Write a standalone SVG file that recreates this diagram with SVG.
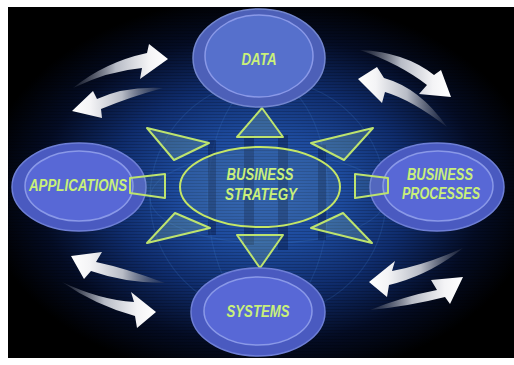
<svg xmlns="http://www.w3.org/2000/svg" width="514" height="365" viewBox="0 0 514 365">
<defs>
<radialGradient id="bg" cx="0.5" cy="0.52" r="0.55">
<stop offset="0" stop-color="#2a5cb4"/>
<stop offset="0.3" stop-color="#1d4a9c"/>
<stop offset="0.55" stop-color="#0f2c6c"/>
<stop offset="0.8" stop-color="#040c24"/>
<stop offset="1" stop-color="#000000"/>
</radialGradient>
<linearGradient id="gR" x1="0" y1="0" x2="1" y2="0">
<stop offset="0" stop-color="#6b7080" stop-opacity="0.15"/>
<stop offset="0.45" stop-color="#b8bcc6"/>
<stop offset="0.8" stop-color="#f4f4f6"/>
<stop offset="1" stop-color="#ffffff"/>
</linearGradient>
<linearGradient id="gL" x1="1" y1="0" x2="0" y2="0">
<stop offset="0" stop-color="#6b7080" stop-opacity="0.15"/>
<stop offset="0.45" stop-color="#b8bcc6"/>
<stop offset="0.8" stop-color="#f4f4f6"/>
<stop offset="1" stop-color="#ffffff"/>
</linearGradient>
<pattern id="scan" width="4" height="3" patternUnits="userSpaceOnUse">
<rect width="4" height="1" fill="#000" opacity="0.18"/>
</pattern>
<style>
.outer{fill:#4a5ac0;stroke:#6e7fd6;stroke-width:1.5}
.inner{fill:#5868d6;stroke:#8a99e8;stroke-width:1.5}
.lbl{font-family:"Liberation Sans",Arial,sans-serif;font-weight:bold;font-style:italic;font-size:16px;fill:#c9f07a;text-anchor:middle}
.ray{fill:#7fb4b4;fill-opacity:0.3;stroke:#bde36e;stroke-width:2;stroke-linejoin:round}
.col{fill:#08173e;opacity:0.4}
.arr{stroke:none}
</style>
</defs>
<rect x="0" y="0" width="514" height="365" fill="#ffffff"/>
<rect x="8" y="7" width="506" height="351" fill="url(#bg)"/>
<rect x="8" y="7" width="506" height="351" fill="url(#scan)"/>
<g id="globe" fill="none" stroke="#4a86d0" stroke-opacity="0.18" stroke-width="1.2">
<circle cx="268" cy="198" r="118"/>
<ellipse cx="268" cy="198" rx="60" ry="118"/>
<ellipse cx="268" cy="198" rx="118" ry="45"/>
</g>
<g id="columns">
<rect class="col" x="208" y="140" width="8" height="95"/>
<rect class="col" x="244" y="135" width="10" height="110"/>
<rect class="col" x="278" y="135" width="10" height="115"/>
<rect class="col" x="318" y="145" width="8" height="95"/>
</g>
<g id="rays">
<polygon class="ray" points="262,108 237,137 283,137"/>
<polygon class="ray" points="237,235 283,235 260,268"/>
<polygon class="ray" points="147,128 209,143 174,160"/>
<polygon class="ray" points="373,128 311,143 344,160"/>
<polygon class="ray" points="147,243 210,228 175,213"/>
<polygon class="ray" points="372,243 311,228 343,213"/>
</g>
<g id="node-data">
<ellipse class="outer" cx="259" cy="58" rx="66" ry="49" style="fill:#4d60b8;stroke:#7386cf"/>
<ellipse class="inner" cx="259" cy="56" rx="54" ry="41" style="fill:#5670cc"/>
<text class="lbl" x="259" y="65" textLength="35" lengthAdjust="spacingAndGlyphs">DATA</text>
</g>
<g id="node-applications">
<ellipse class="outer" cx="79" cy="187" rx="67" ry="44"/>
<ellipse class="inner" cx="79" cy="186" rx="54" ry="35"/>
<polygon class="ray" points="130,178 165,174 165,198 130,193" style="fill-opacity:0.15"/>
<text class="lbl" x="78" y="191" textLength="98" lengthAdjust="spacingAndGlyphs">APPLICATIONS</text>
</g>
<g id="node-processes">
<ellipse class="outer" cx="437" cy="187" rx="67" ry="44"/>
<ellipse class="inner" cx="438" cy="186" rx="55" ry="35"/>
<polygon class="ray" points="355,174 388,178 388,193 355,198" style="fill-opacity:0.15"/>
<text class="lbl" x="440" y="180" textLength="66" lengthAdjust="spacingAndGlyphs">BUSINESS</text>
<text class="lbl" x="441" y="199" textLength="78" lengthAdjust="spacingAndGlyphs">PROCESSES</text>
</g>
<g id="node-systems">
<ellipse class="outer" cx="258" cy="312" rx="67" ry="44"/>
<ellipse class="inner" cx="258" cy="311" rx="54" ry="34"/>
<text class="lbl" x="258" y="317" textLength="63" lengthAdjust="spacingAndGlyphs">SYSTEMS</text>
</g>
<g id="node-strategy">
<ellipse cx="260" cy="187" rx="80" ry="40" fill="#5a8ab0" fill-opacity="0.25" stroke="#c4e666" stroke-width="2"/>
<text class="lbl" x="260" y="180" textLength="67" lengthAdjust="spacingAndGlyphs">BUSINESS</text>
<text class="lbl" x="261" y="200" textLength="72" lengthAdjust="spacingAndGlyphs">STRATEGY</text>
</g>
<g id="connectors" class="arr">
<path fill="url(#gR)" d="M73,88 Q105,62 147,53 L149,44 L168,59 L140,79 L142,68 Q108,71 73,88 Z"/>
<path fill="url(#gL)" d="M163,88 Q125,86 97,99 L93,91 L72,111 L102,118 L101,109 Q130,97 163,88 Z"/>
<path fill="url(#gR)" d="M360,50 Q405,52 434,75 L441,70 L451,97 L419,94 L427,85 Q400,64 360,50 Z"/>
<path fill="url(#gL)" d="M447,127 Q420,88 384,78 L377,67 L358,79 L382,103 L385,92 Q412,100 447,127 Z"/>
<path fill="url(#gL)" d="M165,283 Q125,268 96,262 L102,252 L71,256 L84,279 L91,271 Q125,283 165,283 Z"/>
<path fill="url(#gR)" d="M62,282 Q100,300 134,302 L131,292 L156,312 L137,328 L135,316 Q95,305 62,282 Z"/>
<path fill="url(#gL)" d="M463,248 Q425,265 392,271 L395,261 L369,282 L387,297 L389,285 Q430,275 463,248 Z"/>
<path fill="url(#gR)" d="M370,310 Q405,296 437,290 L431,280 L463,277 L450,304 L445,297 Q410,306 370,310 Z"/>
</g>
</svg>
